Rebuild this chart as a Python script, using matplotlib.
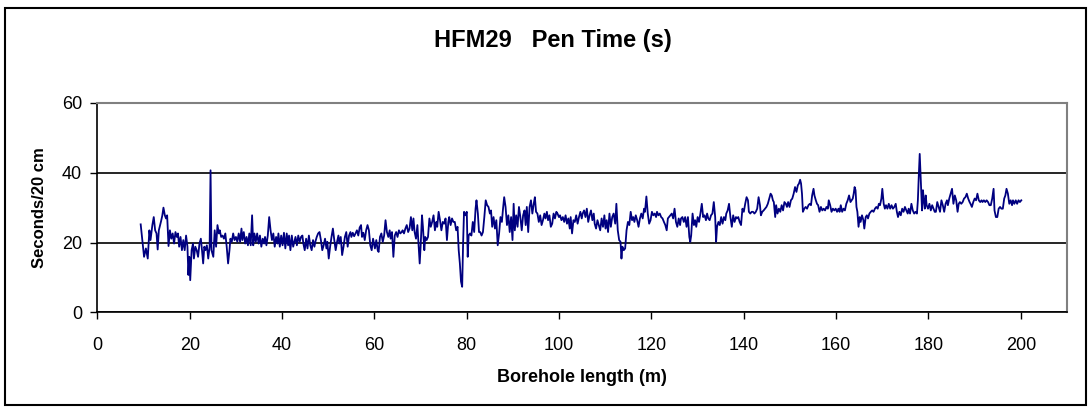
import matplotlib
matplotlib.use("Agg")
import matplotlib.pyplot as plt
from matplotlib.patches import Rectangle

# borehole length (m) and penetration time (s / 20 cm)
length = [9.37, 10.1, 10.5, 10.9, 11.25, 11.5, 11.9, 12.2, 12.5, 12.8, 13.05, 13.3, 13.8, 14.06, 14.3,
          14.6, 14.85, 15.1, 15.4, 15.7, 16.0, 16.3, 16.6, 16.9, 17.2, 17.45, 17.7, 18.0, 18.3, 18.6,
          18.9, 19.2, 19.5, 19.7, 19.9, 20.1, 20.4, 20.7, 20.9, 21.2, 21.5, 21.8, 22.1, 22.4, 22.65,
          22.9, 23.15, 23.4, 23.7, 24.0, 24.3, 24.5, 24.7, 25.1,
          25.4, 25.7, 26.0, 26.3, 26.5, 26.8, 27.1, 27.4, 27.7, 28.0, 28.3, 28.6, 28.8, 29.1, 29.4,
          29.7, 30.0, 30.3, 30.6, 30.9, 31.2, 31.4, 31.7, 32.0, 32.3, 32.6, 32.9, 33.2, 33.5, 33.75,
          34.0, 34.3, 34.6, 34.9, 35.2, 35.5, 35.8, 36.1, 36.3, 36.6, 36.9, 37.2, 37.5, 37.8, 38.1,
          38.4, 38.7, 39.0, 39.2, 39.5, 39.8, 40.1, 40.4, 40.7, 41.0, 41.3, 41.5, 41.8, 42.1, 42.4,
          42.9, 43.2, 43.5, 43.8, 44.1, 44.4, 44.6, 44.9, 45.2, 45.5, 45.8, 46.1, 46.4, 46.7, 47.0,
          47.2, 47.5, 47.8, 48.1, 48.4, 48.7, 49.0, 49.3, 49.6, 49.8, 50.1, 50.4, 50.7, 51.0, 51.3,
          51.6, 51.9, 52.2, 52.4, 52.7, 53.0, 53.3, 53.6, 53.9, 54.2, 54.5, 54.8, 55.0, 55.3, 55.6,
          55.9, 56.2, 56.5, 56.8, 57.1, 57.3, 57.6, 57.9, 58.2, 58.5, 58.8, 59.1, 59.4, 59.7,
          60.1, 60.4, 60.7, 60.9, 61.2, 61.5, 61.8, 62.1, 62.4, 62.7, 63.0, 63.3, 63.5, 63.8, 64.1,
          64.4, 64.7, 65.0, 65.3, 65.6, 65.9, 66.1, 66.4, 66.7, 67.0, 67.3, 67.6, 67.9, 68.2, 68.45,
          68.7, 69.0, 69.3, 69.6, 69.8, 70.0, 70.3, 70.5, 70.8, 71.0, 71.3, 71.6, 71.9, 72.2, 72.5,
          72.8, 73.1, 73.4, 73.6, 73.9, 74.2, 74.5, 74.8, 75.1, 75.4, 75.7, 76.0, 76.2, 76.5, 76.8,
          77.1, 77.4, 77.7, 78.0, 78.25, 78.5, 78.75, 79.0, 79.2, 79.4, 79.7, 80.0, 80.2, 80.4,
          80.7, 81.0, 81.3, 81.6, 81.9, 82.1, 82.4, 82.65, 82.9, 83.2, 83.5, 83.8, 84.1, 84.4, 84.7,
          85.0, 85.25, 85.5, 85.8, 86.1, 86.4, 86.7, 87.0, 87.3, 87.6, 87.85, 88.1, 88.4, 88.7, 89.0,
          89.3, 89.6, 89.9, 90.15, 90.4, 90.7, 91.0, 91.3, 91.6, 91.9, 92.2, 92.5, 92.75, 93.0, 93.3,
          93.6, 93.9, 94.2, 94.5,
          94.75, 95.0, 95.3, 95.6, 95.9, 96.2, 96.5, 96.8, 97.05, 97.35, 97.6, 97.9, 98.2, 98.5,
          98.8, 99.1, 99.4, 99.65, 99.95, 100.2, 100.5, 100.8, 101.1, 101.4, 101.7, 102.0, 102.3,
          102.5, 102.8, 103.1, 103.4, 103.7, 104.0, 104.3, 104.6, 104.9, 105.1, 105.4, 105.7, 106.0,
          106.3, 106.6, 106.9, 107.2, 107.5, 107.7, 108.0, 108.3, 108.6, 108.9, 109.2, 109.5, 109.8,
          110.05, 110.3, 110.6, 110.9, 111.2, 111.5, 111.8,
          112.15, 112.4, 112.7, 113.0, 113.3, 113.5, 113.7, 114.0, 114.3, 114.6, 114.9, 115.2,
          115.5, 115.8, 116.05, 116.3, 116.6, 116.9, 117.2, 117.5, 117.8, 118.1, 118.4, 118.6, 118.9,
          119.2, 119.5, 119.8, 120.1, 120.4, 120.7, 121.0, 121.2, 121.5, 121.8, 122.1, 122.4, 122.7,
          123.0, 123.3, 123.55, 123.8, 124.1, 124.4, 124.7, 125.0, 125.3, 125.6, 125.9, 126.2, 126.4,
          126.7, 127.0, 127.3, 127.6, 127.9, 128.2, 128.4, 128.6, 128.9, 129.2,
          129.45, 129.7, 130.0, 130.3, 130.6, 130.9, 131.2, 131.5, 131.8, 132.05, 132.3, 132.6,
          132.9, 133.2, 133.5, 133.8, 134.0, 134.2, 134.5, 134.8, 135.1, 135.4, 135.7, 136.0, 136.2,
          136.5, 136.8, 137.1, 137.4, 137.7, 138.0, 138.3, 138.5, 138.8, 139.1, 139.4, 139.7, 140.0,
          140.3, 140.6, 140.9, 141.1, 141.4, 141.7, 142.0, 142.3, 142.6, 142.9, 143.2, 143.5, 143.7,
          144.0, 144.3, 144.6, 144.9, 145.2, 145.5, 145.8, 146.05, 146.3,
          146.5, 146.8, 147.0, 147.3, 147.6, 147.9, 148.2, 148.5, 148.8, 149.1, 149.35, 149.6,
          149.9, 150.2, 150.5, 150.8, 151.1, 151.4, 151.7, 151.95, 152.2, 152.4, 152.6, 152.8, 153.1,
          153.4, 153.7, 154.0, 154.3, 154.55, 154.8, 155.1, 155.3, 155.6, 155.85, 156.1, 156.4, 156.7,
          157.0, 157.3, 157.6, 157.9, 158.2, 158.4, 158.7, 159.0, 159.3, 159.6, 159.9, 160.2, 160.5,
          160.75, 161.0, 161.3, 161.6, 161.9, 162.2, 162.5, 162.8, 163.1, 163.35, 163.6,
          163.8, 164.0, 164.2, 164.4, 164.6, 164.85, 165.1, 165.3, 165.6, 165.9, 166.1, 166.4,
          166.65, 166.9, 167.2, 167.5, 167.8, 168.1, 168.4, 168.7, 169.0, 169.25, 169.5, 169.8, 170.0,
          170.3, 170.55, 170.8, 171.1, 171.4, 171.7, 172.0, 172.3, 172.6, 172.9, 173.15, 173.4, 173.7,
          174.0, 174.3, 174.6, 174.9, 175.2, 175.5, 175.7, 176.0, 176.3, 176.6, 176.9, 177.2, 177.5,
          177.7, 177.9, 178.1, 178.3, 178.6, 178.8, 179.0, 179.2, 179.4, 179.6, 179.9, 180.2, 180.5,
          180.8, 181.1,
          181.35, 181.6, 181.9, 182.2, 182.5, 182.8, 183.1, 183.4, 183.7, 184.0, 184.2, 184.5,
          184.8, 185.1, 185.4, 185.7, 186.0, 186.3, 186.55, 186.8, 187.1, 187.4, 187.7, 188.0, 188.3,
          188.6, 188.9, 189.1, 189.4, 189.7, 190.0, 190.3, 190.6, 190.9, 191.2, 191.5, 191.7, 192.0,
          192.3, 192.6, 192.9, 193.2, 193.5, 193.8, 194.1, 194.3, 194.6, 194.9, 195.2, 195.5, 195.8,
          196.1, 196.4, 196.65, 196.9, 197.2, 197.5, 197.8, 198.1, 198.3, 198.6, 198.9, 199.2, 199.5,
          199.8, 200.1]

pen_time = [25.2, 15.9, 18.3, 15.4, 23.5, 20.7, 25.0, 27.3, 23.5, 22.6, 18.0, 23.5, 26.2, 27.8, 30.0,
            27.8, 26.9, 27.8, 19.0, 23.5, 21.1, 22.6, 19.7, 23.0, 21.6, 22.6, 18.8, 21.6, 17.8, 20.7,
            17.8, 22.0, 18.8, 10.7, 15.9, 9.2, 17.8, 19.7, 15.4, 18.8, 17.8, 15.9, 19.7, 21.1, 17.8,
            14.0, 18.8, 17.8, 19.2, 15.4, 18.8, 40.7, 17.8, 15.9,
            23.5, 18.8, 25.0, 22.6, 23.5, 21.6, 22.0, 21.1, 22.6, 18.8, 14.0, 17.8, 21.1, 20.2, 22.6,
            20.7, 21.6, 20.2, 22.6, 20.2, 24.0, 20.7, 23.0, 19.7, 21.6, 19.2, 22.6, 19.2, 27.8, 19.2,
            22.6, 20.2, 22.6, 19.7, 22.0, 18.8, 21.1, 19.7, 21.6, 19.2, 22.0, 27.3, 23.5, 20.7, 22.6,
            18.8, 21.6, 19.7, 22.6, 18.8, 22.0, 19.2, 22.8, 18.3, 22.6, 19.2, 22.0, 17.8, 22.0, 18.8,
            21.6, 19.2, 22.0, 20.2, 21.6, 22.0, 19.7, 17.8, 21.1, 18.3, 22.0, 19.2, 17.8, 20.7, 18.8,
            20.2, 21.6, 22.6, 23.0, 20.7, 17.8, 19.2, 21.1, 18.3, 20.2, 15.4, 18.8, 21.6, 24.0, 20.7,
            17.8, 20.2, 22.0, 19.7, 21.6, 16.4, 18.8, 21.6, 23.0, 18.8, 22.0, 23.0, 21.6, 22.8, 21.8,
            22.6, 23.5, 22.0, 24.3, 25.0, 21.6, 22.8, 20.7, 23.5, 25.0, 23.5, 19.2, 17.8, 21.1,
            18.3, 20.7, 17.8, 17.3, 21.6, 22.6, 20.2, 22.0, 26.4, 23.0, 21.6, 23.5, 21.1, 23.0, 15.9,
            22.0, 23.0, 21.6, 23.5, 22.6, 23.0, 23.5, 22.6, 24.0, 25.0, 23.0, 24.0, 27.3, 23.5, 26.9,
            23.0, 21.1, 25.0, 18.3, 14.0, 18.8, 27.8, 24.5, 17.8, 21.6, 20.7, 21.6, 26.9, 24.5, 25.9,
            27.8, 23.5, 25.9, 24.5, 28.8, 26.4, 23.5, 25.9, 25.4, 26.9, 20.7, 25.9, 27.3, 25.0, 26.9,
            25.9, 25.9, 23.5, 24.5, 17.8, 14.0, 8.8, 7.3, 19.7, 28.8, 27.8, 28.8, 15.9, 22.0,
            22.6, 22.0, 25.9, 23.0, 29.7, 32.1, 28.3, 23.0, 23.0, 22.0, 23.0, 27.3, 32.1, 30.7, 30.2,
            28.3, 29.2, 24.5, 27.3, 24.0, 26.4, 19.2, 22.6, 27.3, 25.9, 29.7, 33.0, 30.2, 25.0, 27.8,
            23.0, 27.3, 20.7, 31.1, 23.5, 27.8, 24.5, 30.2, 27.3, 23.5, 27.8, 29.2, 25.0, 30.2, 23.0,
            30.2, 32.1, 28.3, 31.1,
            33.0, 28.8, 28.3, 25.9, 27.8, 25.0, 26.4, 28.3, 26.9, 28.8, 26.4, 27.8, 24.5, 25.4,
            28.3, 26.9, 28.8, 28.3, 27.3, 27.8, 26.4, 27.3, 25.9, 27.8, 25.4, 26.9, 24.0,
            27.3, 22.6, 26.4, 25.9, 27.8, 25.4, 27.3, 28.8, 26.9, 28.3, 29.2, 27.3, 29.7,
            25.9, 27.8, 29.2, 26.4, 28.3, 25.4, 24.0, 26.4, 25.0, 23.5, 26.9, 24.5, 27.8,
            24.0, 26.4, 23.0, 28.3, 24.5, 27.3, 28.3,
            25.4, 31.1, 23.5, 20.7, 20.2, 15.4, 18.8, 17.8, 18.3, 23.5, 25.9, 25.0,
            28.8, 26.4, 27.3, 25.9, 27.8, 26.4, 24.5, 26.9, 28.3, 26.9, 29.7, 28.8, 33.2,
            28.3, 25.4, 26.4, 28.8, 27.8, 28.3, 27.3, 28.8, 27.8, 28.3, 27.3, 26.9, 25.9,
            25.0, 23.5, 26.9, 27.3, 27.8, 28.3, 26.9, 29.7, 25.9, 24.5, 26.9, 25.0, 26.9,
            27.3, 25.9, 27.3, 24.5, 27.3, 21.6, 20.2, 22.0, 28.3, 25.0,
            26.4, 24.5, 27.3, 25.9, 28.3, 31.1, 27.3, 27.8, 26.4, 28.3, 26.9, 26.4,
            27.8, 28.3, 31.6, 27.3, 20.2, 24.5, 25.9, 25.0, 27.3, 25.4, 27.3, 26.4, 28.3,
            29.2, 31.1, 27.3, 24.5, 27.8, 25.9, 27.3, 26.9, 27.3, 25.9, 25.0, 29.7, 28.8,
            31.1, 33.0, 32.1, 28.8, 28.3, 28.8, 28.8, 28.3, 28.8, 29.7, 33.0, 30.7, 27.8,
            28.8, 29.2, 29.7, 30.2, 31.1, 32.6, 34.0, 33.5, 32.1,
            31.6, 27.3, 30.7, 28.3, 29.7, 28.8, 30.7, 29.2, 31.6, 31.1, 30.2, 31.6,
            30.2, 32.1, 32.6, 34.0, 35.9, 34.5, 36.4, 36.9, 38.0, 36.9, 34.0, 28.8, 29.7,
            30.2, 29.7, 30.7, 31.1, 30.7, 33.5, 35.4, 33.5, 32.1, 31.1, 30.7, 28.8, 30.2,
            29.2, 29.7, 29.2, 30.2, 29.7, 32.1, 30.7, 28.8, 29.7, 29.2, 29.7, 28.8, 29.7,
            28.8, 30.7, 28.8, 29.7, 29.2, 31.1, 32.1, 33.5, 31.6, 32.1, 32.6,
            34.0, 35.9, 35.0, 30.2, 28.8, 24.5, 27.3, 25.9, 27.8, 26.4, 24.0, 27.3,
            27.8, 26.9, 28.3, 28.8, 29.2, 28.8, 29.7, 30.2, 29.7, 31.1, 30.7, 32.6, 35.4,
            31.1, 29.7, 30.7, 29.7, 31.1, 29.7, 30.7, 29.7, 30.2, 31.1, 28.8, 27.3, 28.8,
            27.8, 29.7, 28.8, 30.2, 29.2, 28.3, 29.7, 28.3, 31.1, 29.2, 28.3, 28.8, 28.3,
            32.1, 39.2, 45.4, 38.8, 29.2, 35.0, 32.1, 29.7, 33.5, 30.7, 29.7, 31.1, 29.2,
            30.7, 29.7,
            28.8, 28.8, 31.6, 30.2, 28.8, 32.1, 30.7, 28.8, 31.1, 32.1, 30.7, 32.6,
            34.0, 35.4, 31.1, 33.5, 32.1, 28.8, 31.1, 31.6, 31.1, 31.6, 32.6, 33.0, 34.0,
            32.6, 31.6, 31.1, 30.2, 31.6, 32.6, 32.1, 34.0, 32.1, 31.6, 32.1, 31.6, 32.1,
            31.6, 32.1, 31.6, 30.7, 30.7, 32.6, 35.4, 29.2, 27.3, 27.3, 29.7, 30.2, 29.7,
            29.7, 32.6, 33.5, 35.4, 34.0, 31.1, 32.1, 30.7, 32.1, 31.1, 32.1, 31.1, 32.1,
            31.6, 32.1]

x_ticks = [0, 20, 40, 60, 80, 100, 120, 140, 160, 180, 200]
y_ticks = [0, 20, 40, 60]

plt.rcParams['font.family'] = ['Liberation Sans', 'DejaVu Sans']

fig = plt.figure(figsize=(10.91, 4.07), dpi=100)
ax = fig.add_axes([0.0893, 0.2327, 0.8887, 0.5143])

ax.plot(length, pen_time, color='#000080', lw=1.3, zorder=3)

ax.set_xlim(0, 210)
ax.set_ylim(0, 60)
ax.set_xticks(x_ticks)
ax.set_yticks(y_ticks)
ax.tick_params(labelsize=13, direction='out', length=5, width=1, colors='black')
ax.tick_params(axis='x', pad=13)
ax.tick_params(axis='y', pad=6)
ax.grid(axis='y', color='black', lw=1.2, zorder=1)
ax.set_axisbelow(True)

for s in ['top', 'right']:
    ax.spines[s].set_color('#808080')
    ax.spines[s].set_linewidth(1.5)
for s in ['left', 'bottom']:
    ax.spines[s].set_color('black')
    ax.spines[s].set_linewidth(1.2)

ax.set_xlabel('Borehole length (m)', fontsize=13, fontweight='bold')
ax.set_ylabel('Seconds/20 cm', fontsize=12, fontweight='bold')
ax.xaxis.set_label_coords(0.5, -0.3125)
ax.yaxis.set_label_coords(-0.0595, 0.5)
ax.xaxis.label.set_va('center')
ax.yaxis.label.set_va('center')
fig.text(0.507, 0.90, 'HFM29   Pen Time (s)', fontsize=17, fontweight='bold', ha='center', va='center')

# outer chart frame
fig.patches.append(Rectangle((0.005, 0.005), 0.99, 0.975, transform=fig.transFigure,
                             fill=False, edgecolor='black', lw=1.5))

fig.savefig('out.png', dpi=100)
